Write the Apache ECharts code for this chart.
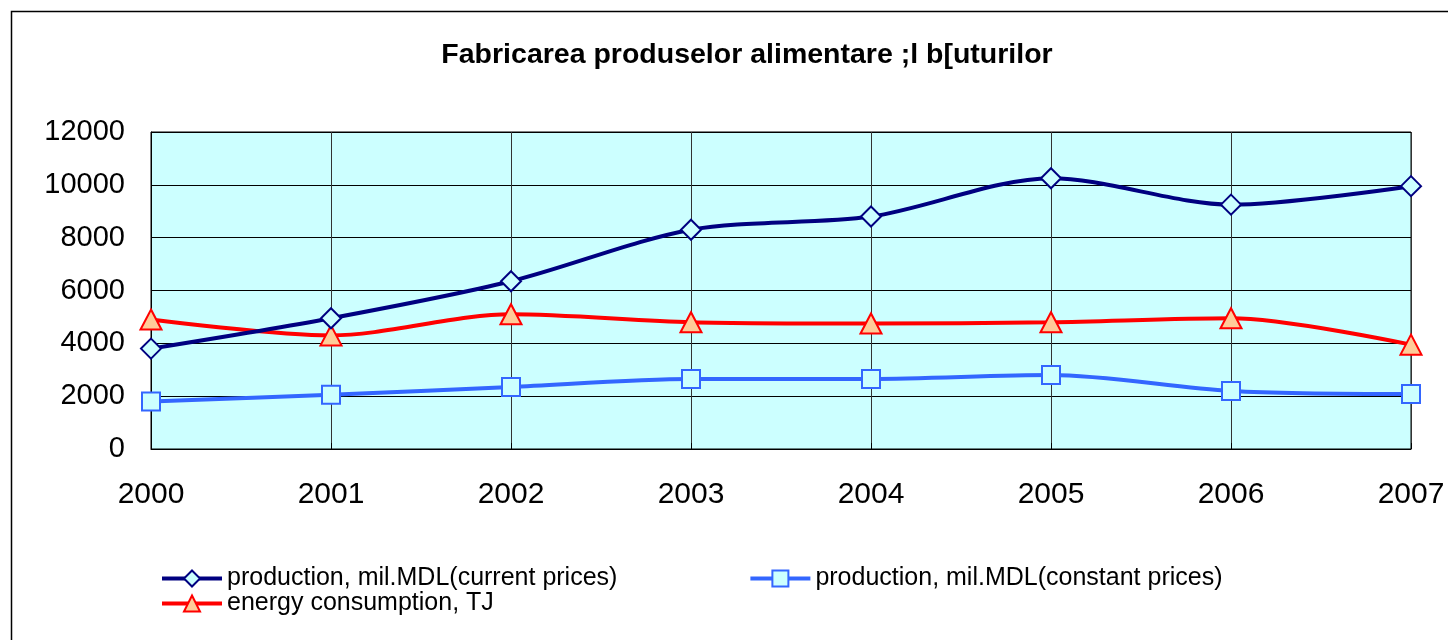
<!DOCTYPE html>
<html>
<head>
<meta charset="utf-8">
<script src="https://cdn.jsdelivr.net/npm/echarts@6/dist/echarts.min.js"></script>
<style>
  html, body { margin: 0; padding: 0; background: #fff; }
  #chart { width: 1448px; height: 640px; }
</style>
</head>
<body>
<div id="chart"></div>
<script>
var years = ['2000', '2001', '2002', '2003', '2004', '2005', '2006', '2007'];
var currentPrices = [3800, 4950, 6350, 8300, 8800, 10250, 9250, 9950];
var constantPrices = [1800, 2050, 2350, 2650, 2650, 2800, 2200, 2080];
var energy = [4900, 4300, 5100, 4800, 4750, 4800, 4950, 3950];

var nameCurrent = 'production, mil.MDL(current prices)';
var nameConstant = 'production, mil.MDL(constant prices)';
var nameEnergy = 'energy consumption, TJ';

var chart = echarts.init(document.getElementById('chart'));
var font = 'Liberation Sans, Arial, sans-serif';

var option = {
    backgroundColor: '#ffffff',
    animation: false,
    textStyle: { fontFamily: font },
    graphic: [{
        type: 'rect',
        shape: { x: 11.5, y: 11.5, width: 1500, height: 700 },
        style: { fill: 'none', stroke: '#000', lineWidth: 1.5 },
        silent: true
    }],
    title: {
        text: 'Fabricarea produselor alimentare ;l b[uturilor',
        left: 742,
        textAlign: 'center',
        top: 36,
        textStyle: { fontSize: 28.5, fontWeight: 'bold', color: '#000', fontFamily: font }
    },
    legend: [{
        data: [nameCurrent, nameConstant],
        left: 155,
        top: 561,
        itemWidth: 60,
        itemHeight: 20,
        itemGap: 131,
        lineStyle: { width: 4 },
        textStyle: { fontSize: 25, color: '#000', fontFamily: font }
    }, {
        data: [nameEnergy],
        left: 155,
        top: 586,
        itemWidth: 60,
        itemHeight: 20,
        lineStyle: { width: 4 },
        textStyle: { fontSize: 25, color: '#000', fontFamily: font }
    }],
    grid: {
        left: 151,
        right: 37,
        top: 132,
        bottom: 191,
        show: true,
        backgroundColor: '#ccffff',
        borderColor: '#000',
        borderWidth: 1
    },
    xAxis: {
        type: 'category',
        data: years,
        boundaryGap: false,
        axisLine: { lineStyle: { color: '#000', width: 1 } },
        axisTick: { show: true, inside: true, length: 6, lineStyle: { color: '#000' } },
        axisLabel: { fontSize: 30, color: '#000', margin: 31, fontFamily: font },
        splitLine: { show: true, lineStyle: { color: '#333', width: 1 } }
    },
    yAxis: {
        type: 'value',
        min: 0,
        max: 12000,
        interval: 2000,
        axisLine: { show: true, lineStyle: { color: '#000', width: 1 } },
        axisTick: { show: true, inside: true, length: 8, lineStyle: { color: '#000' } },
        axisLabel: {
            fontSize: 29, color: '#000', margin: 26, fontFamily: font,
            formatter: function (v) { return String(v); }
        },
        splitLine: { show: true, lineStyle: { color: '#000', width: 1 } }
    },
    series: [{
        name: nameCurrent,
        type: 'line',
        data: currentPrices,
        smooth: 0.3,
        symbol: 'diamond',
        symbolSize: 20,
        lineStyle: { color: '#000080', width: 4 },
        itemStyle: { color: '#ccffff', borderColor: '#000080', borderWidth: 2 },
        z: 4
    }, {
        name: nameConstant,
        type: 'line',
        data: constantPrices,
        smooth: 0.3,
        symbol: 'rect',
        symbolSize: 18,
        lineStyle: { color: '#3366ff', width: 4 },
        itemStyle: { color: '#ccffff', borderColor: '#3366ff', borderWidth: 2 },
        z: 3
    }, {
        name: nameEnergy,
        type: 'line',
        data: energy,
        smooth: 0.3,
        symbol: 'triangle',
        symbolSize: [21, 20],
        lineStyle: { color: '#ff0000', width: 4 },
        itemStyle: { color: '#ffcc99', borderColor: '#ff0000', borderWidth: 2 },
        z: 3
    }]
};

chart.setOption(option);
</script>
</body>
</html>
